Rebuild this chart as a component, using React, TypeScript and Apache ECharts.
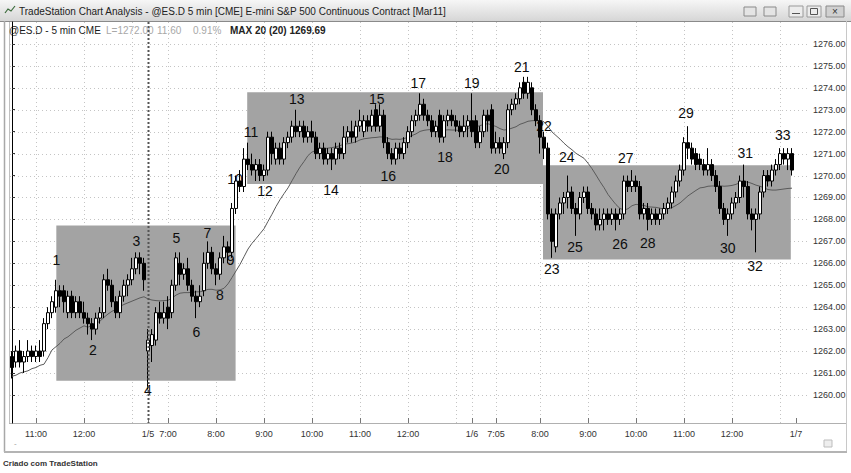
import React, { useEffect, useRef } from 'react';
import * as echarts from 'echarts';

// Sessions shown (5-minute bars, exchange-local time stamps)
const sessionDates = ['1/4', '1/5', '1/6'];
const sessionStarts = ['10:30', '6:35', '6:35'];
const trailingSlots = ['1/7 a', '1/7 b', '1/7 c', '1/7 d'];

// Bars: [open, close, low, high]
const day1Bars = [
  [1261.75, 1261.25, 1260.75, 1262.0], [1261.5, 1262.0, 1261.25, 1262.25], [1262.0, 1261.5, 1261.25, 1262.5],
  [1261.5, 1261.75, 1261.0, 1262.0], [1261.75, 1262.0, 1261.5, 1262.5], [1262.0, 1261.75, 1261.5, 1262.25],
  [1261.75, 1262.0, 1261.5, 1262.25], [1262.0, 1261.75, 1261.5, 1262.5], [1262.0, 1263.25, 1261.75, 1263.5],
  [1263.25, 1263.75, 1263.0, 1264.0], [1263.75, 1264.25, 1263.5, 1264.5], [1264.0, 1264.75, 1263.75, 1265.25],
  [1264.75, 1264.5, 1264.0, 1265.0], [1264.75, 1264.25, 1263.75, 1265.0], [1263.75, 1264.5, 1263.5, 1264.75],
  [1264.5, 1263.75, 1263.5, 1264.75], [1263.75, 1264.25, 1263.5, 1264.5], [1264.25, 1263.75, 1263.5, 1264.5],
  [1263.75, 1263.5, 1263.25, 1264.25], [1263.5, 1263.25, 1262.75, 1263.75], [1263.25, 1263.0, 1262.5, 1263.5],
  [1263.0, 1263.5, 1262.75, 1263.75], [1263.5, 1263.75, 1263.25, 1264.0], [1263.75, 1265.25, 1263.5, 1265.5],
  [1265.25, 1265.0, 1264.75, 1265.75], [1265.0, 1264.25, 1264.0, 1265.25], [1264.25, 1263.75, 1263.5, 1264.5],
  [1263.75, 1264.5, 1263.5, 1264.75], [1264.5, 1265.0, 1264.25, 1265.25], [1265.0, 1265.25, 1264.5, 1265.5],
  [1265.25, 1265.75, 1265.0, 1266.25], [1265.75, 1266.25, 1265.5, 1266.5], [1266.25, 1266.0, 1265.5, 1266.5],
  [1266.0, 1265.25, 1264.75, 1266.25],
];
const day2Bars = [
  [1262.0, 1262.5, 1260.25, 1263.0], [1262.25, 1262.75, 1261.5, 1263.0], [1262.5, 1263.75, 1262.25, 1264.0],
  [1263.75, 1263.5, 1263.25, 1264.25], [1263.5, 1263.75, 1263.25, 1264.25], [1264.0, 1263.5, 1263.0, 1264.5],
  [1263.75, 1265.0, 1263.5, 1265.25], [1265.0, 1266.25, 1264.75, 1266.5], [1266.0, 1265.5, 1265.0, 1266.5],
  [1265.5, 1265.75, 1265.25, 1266.0], [1265.75, 1265.0, 1264.75, 1266.25], [1265.0, 1264.5, 1264.25, 1265.25],
  [1264.5, 1264.25, 1263.5, 1264.75], [1264.25, 1264.5, 1264.0, 1265.0], [1264.75, 1266.0, 1264.5, 1266.5],
  [1266.0, 1266.5, 1265.75, 1267.0], [1266.5, 1265.75, 1265.5, 1266.75], [1265.75, 1265.5, 1265.0, 1266.0],
  [1265.5, 1266.25, 1265.25, 1266.5], [1266.25, 1266.75, 1266.0, 1267.25], [1266.75, 1266.5, 1266.0, 1267.0],
  [1266.5, 1268.5, 1266.25, 1268.75], [1268.5, 1269.75, 1268.25, 1270.0], [1269.75, 1269.5, 1269.25, 1270.25],
  [1269.5, 1270.75, 1269.25, 1271.25], [1270.75, 1270.5, 1270.25, 1271.5], [1270.5, 1270.25, 1270.0, 1271.0],
  [1270.25, 1270.5, 1269.75, 1270.75], [1270.5, 1270.0, 1269.75, 1270.75], [1270.0, 1270.25, 1269.75, 1270.5],
  [1270.25, 1271.75, 1270.0, 1272.0], [1271.75, 1271.0, 1270.5, 1272.0], [1270.75, 1271.25, 1270.5, 1271.5],
  [1271.25, 1270.75, 1270.5, 1271.5], [1270.75, 1271.5, 1270.5, 1271.75], [1271.5, 1271.75, 1271.25, 1272.0],
  [1271.75, 1272.25, 1271.5, 1272.5], [1272.25, 1272.0, 1271.75, 1273.0], [1272.0, 1272.25, 1271.75, 1272.5],
  [1272.25, 1271.75, 1271.5, 1272.5], [1271.75, 1272.0, 1271.5, 1272.25], [1272.0, 1271.75, 1271.5, 1272.5],
  [1271.75, 1271.0, 1270.75, 1272.0], [1271.0, 1271.25, 1270.75, 1271.5], [1271.25, 1270.75, 1270.5, 1271.5],
  [1270.75, 1271.0, 1270.5, 1271.25], [1271.0, 1270.75, 1270.25, 1271.25], [1270.75, 1271.25, 1270.5, 1271.5],
  [1271.25, 1271.0, 1270.75, 1271.5], [1271.0, 1271.75, 1270.75, 1272.25], [1271.75, 1272.0, 1271.5, 1272.25],
  [1272.0, 1271.75, 1271.5, 1272.5], [1271.75, 1272.25, 1271.5, 1272.5], [1272.25, 1272.5, 1272.0, 1273.0],
  [1272.0, 1272.5, 1271.75, 1272.75], [1272.5, 1272.25, 1272.0, 1272.75], [1272.25, 1272.75, 1272.0, 1273.0],
  [1273.0, 1272.25, 1272.0, 1273.25], [1272.25, 1272.75, 1272.0, 1273.25], [1272.75, 1271.5, 1271.25, 1273.0],
  [1271.5, 1271.0, 1270.75, 1271.75], [1271.0, 1270.75, 1270.5, 1271.25], [1270.75, 1271.25, 1270.5, 1271.5],
  [1271.25, 1271.0, 1270.75, 1271.5], [1271.0, 1271.5, 1270.75, 1271.75], [1271.5, 1272.0, 1271.25, 1272.25],
  [1272.0, 1272.5, 1271.75, 1272.75], [1272.5, 1272.75, 1272.25, 1273.0], [1272.75, 1273.25, 1272.5, 1273.75],
  [1273.25, 1272.75, 1272.5, 1273.5], [1272.75, 1272.5, 1272.25, 1273.0], [1272.5, 1272.0, 1271.75, 1272.75],
  [1272.0, 1272.25, 1271.75, 1272.5], [1272.75, 1271.75, 1271.5, 1273.0], [1271.75, 1272.5, 1271.5, 1272.75],
  [1272.5, 1272.75, 1272.25, 1273.0], [1272.75, 1272.5, 1272.25, 1273.0], [1272.5, 1272.25, 1272.0, 1272.75],
  [1272.25, 1272.0, 1271.75, 1272.5], [1272.0, 1272.25, 1271.75, 1272.75], [1272.25, 1272.5, 1271.75, 1272.75],
];
const day3Bars = [
  [1272.5, 1272.0, 1271.75, 1273.75], [1272.5, 1271.5, 1271.25, 1272.75], [1271.5, 1272.0, 1271.25, 1272.25],
  [1272.0, 1272.75, 1271.75, 1273.0], [1272.75, 1272.5, 1272.0, 1273.0], [1273.0, 1271.25, 1271.0, 1273.25],
  [1271.25, 1271.5, 1271.0, 1272.0], [1271.5, 1271.25, 1271.0, 1271.75], [1271.0, 1271.5, 1270.75, 1271.75],
  [1271.5, 1273.0, 1271.25, 1273.25], [1273.0, 1273.25, 1272.75, 1273.5], [1273.25, 1273.5, 1273.0, 1273.75],
  [1273.5, 1274.0, 1273.25, 1274.25], [1274.25, 1273.75, 1273.5, 1274.5], [1273.75, 1274.25, 1273.5, 1274.5],
  [1274.0, 1273.0, 1272.75, 1274.25], [1273.0, 1272.5, 1272.25, 1273.25], [1272.5, 1271.75, 1271.0, 1272.75],
  [1271.75, 1271.25, 1270.75, 1272.0], [1271.25, 1268.25, 1268.0, 1271.5], [1268.25, 1267.0, 1266.25, 1268.5],
  [1266.75, 1268.25, 1266.5, 1268.5], [1268.25, 1268.75, 1268.0, 1269.0], [1268.75, 1269.0, 1268.25, 1269.25],
  [1269.0, 1269.25, 1268.5, 1270.0], [1269.25, 1268.5, 1268.25, 1269.5], [1268.5, 1268.25, 1267.25, 1268.75],
  [1268.25, 1269.0, 1268.0, 1269.25], [1269.0, 1269.25, 1268.75, 1269.5], [1269.25, 1268.5, 1268.25, 1269.5],
  [1268.5, 1268.25, 1268.0, 1268.75], [1268.25, 1267.75, 1267.5, 1268.5], [1267.75, 1268.0, 1267.5, 1268.5],
  [1268.0, 1268.25, 1267.5, 1268.5], [1268.25, 1268.0, 1267.75, 1268.5], [1268.0, 1268.25, 1267.75, 1268.5],
  [1268.25, 1268.0, 1267.5, 1268.5], [1268.0, 1268.25, 1267.75, 1268.5], [1268.25, 1269.75, 1268.0, 1270.0],
  [1269.75, 1269.5, 1269.25, 1270.0], [1269.5, 1269.75, 1269.25, 1270.25], [1269.75, 1269.5, 1269.25, 1270.0],
  [1269.5, 1268.25, 1268.0, 1269.75], [1268.25, 1268.5, 1268.0, 1268.75], [1268.5, 1268.0, 1267.5, 1268.75],
  [1268.0, 1268.25, 1267.75, 1268.5], [1268.25, 1268.0, 1267.75, 1268.5], [1268.0, 1268.25, 1267.75, 1268.5],
  [1268.25, 1268.5, 1268.0, 1268.75], [1268.5, 1268.75, 1268.25, 1269.0], [1268.75, 1269.25, 1268.5, 1269.5],
  [1269.25, 1269.75, 1269.0, 1270.0], [1269.75, 1270.25, 1269.5, 1270.5], [1270.25, 1271.5, 1270.0, 1271.75],
  [1271.5, 1271.25, 1270.75, 1272.25], [1271.25, 1270.75, 1270.5, 1271.5], [1271.0, 1270.5, 1270.25, 1271.25],
  [1270.75, 1270.5, 1270.25, 1271.0], [1270.5, 1270.25, 1270.0, 1270.75], [1270.25, 1270.5, 1270.0, 1271.25],
  [1270.5, 1270.0, 1269.75, 1270.75], [1270.0, 1269.5, 1269.25, 1270.25], [1269.5, 1268.5, 1268.25, 1269.75],
  [1268.5, 1268.0, 1267.75, 1268.75], [1268.0, 1268.25, 1267.25, 1268.5], [1268.25, 1268.75, 1268.0, 1269.0],
  [1268.75, 1269.0, 1268.5, 1269.25], [1269.0, 1269.75, 1268.75, 1270.0], [1269.75, 1269.5, 1269.0, 1270.5],
  [1269.5, 1268.25, 1268.0, 1269.75], [1268.25, 1268.0, 1267.5, 1268.5], [1268.0, 1268.25, 1266.5, 1268.5],
  [1268.25, 1269.25, 1268.0, 1269.5], [1269.25, 1270.0, 1269.0, 1270.25], [1270.0, 1269.75, 1269.5, 1270.25],
  [1269.75, 1270.25, 1269.5, 1270.5], [1270.25, 1270.5, 1270.0, 1270.75], [1270.5, 1271.0, 1270.25, 1271.25],
  [1271.0, 1270.75, 1270.5, 1271.25], [1270.75, 1271.0, 1270.25, 1271.25], [1271.0, 1270.25, 1270.0, 1271.25],
];

// MAX 20 values for the first bars (before 20 closes exist in view)
const maLead = [
  1260.85, 1260.9, 1261.0, 1261.05, 1261.1, 1261.2, 1261.25, 1261.35, 1261.4, 1261.7,
  1262.05, 1262.2, 1262.35, 1262.55, 1262.65, 1262.8, 1262.95, 1263.05, 1263.15,
];
const maPeriod = 20;

const priceTicks = [1260, 1261, 1262, 1263, 1264, 1265, 1266, 1267, 1268, 1269, 1270, 1271, 1272, 1273, 1274, 1275, 1276];
const xTickLabels: [number, string][] = [
  [6, '11:00'], [18, '12:00'], [34, '1/5'], [39, '7:00'], [51, '8:00'], [63, '9:00'], [75, '10:00'],
  [87, '11:00'], [99, '12:00'], [115, '1/6'], [121, '7:05'], [132, '8:00'], [144, '9:00'], [156, '10:00'],
  [168, '11:00'], [180, '12:00'], [196, '1/7'],
];
const hourGridIdx = [6, 18, 30, 39, 51, 63, 75, 87, 99, 111, 115, 121, 132, 144, 156, 168, 180, 192];
const sessionBreakIdx = [34];

// Rectangles: [fromBar, toBar, low, high]
const boxes = [
  [11.08, 55.9, 1260.65, 1267.72],
  [58.8, 132.75, 1269.62, 1273.8],
  [132.75, 194.7, 1266.17, 1270.47],
];

// Wave labels: [text, bar, price]
const waveLabels: [string, number, number][] = [
  ['1', 11.08, 1266.15], ['2', 20.25, 1262.05], ['3', 31.08, 1267.02], ['4', 34.0, 1260.23],
  ['5', 41.08, 1267.16], ['6', 46.08, 1262.89], ['7', 48.83, 1267.4], ['8', 52.0, 1264.56],
  ['9', 54.68, 1266.15], ['10', 55.75, 1269.85], ['11', 59.75, 1272.0], ['12', 63.25, 1269.31],
  ['13', 71.18, 1273.48], ['14', 79.75, 1269.34], ['15', 91.18, 1273.48], ['16', 94.08, 1269.98],
  ['17', 101.58, 1274.24], ['18', 108.25, 1270.84], ['19', 114.93, 1274.21], ['20', 122.43, 1270.29],
  ['21', 127.43, 1274.94], ['22', 133.0, 1272.26], ['23', 134.93, 1265.73], ['24', 138.68, 1270.84],
  ['25', 140.75, 1266.76], ['26', 152.0, 1266.88], ['27', 153.43, 1270.79], ['28', 158.93, 1266.94],
  ['29', 168.5, 1272.84], ['30', 178.93, 1266.69], ['31', 183.33, 1271.02], ['32', 185.75, 1265.88],
  ['33', 192.68, 1271.85],
];

const FONT = '"Liberation Sans", Arial, sans-serif';

function buildCategories(dayBars: number[][][]): string[] {
  const cats: string[] = [];
  dayBars.forEach((bars, d) => {
    const [h0, m0] = sessionStarts[d].split(':').map(Number);
    for (let k = 0; k < bars.length; k++) {
      const t = h0 * 60 + m0 + 5 * k;
      const hh = Math.floor(t / 60);
      const mm = t % 60;
      cats.push(`${sessionDates[d]} ${hh}:${mm < 10 ? '0' : ''}${mm}`);
    }
  });
  return cats.concat(trailingSlots);
}

export default function App() {
  const ref = useRef<HTMLDivElement>(null);

  useEffect(() => {
    document.body.style.margin = '0';
    const chart = echarts.init(ref.current as HTMLDivElement, null, { renderer: 'svg' });

    const bars = [...day1Bars, ...day2Bars, ...day3Bars];
    const categories = buildCategories([day1Bars, day2Bars, day3Bars]);
    const nSlots = categories.length;
    const closes = bars.map((b) => b[1]);
    const ma = closes.map((_, i) => {
      if (i < maPeriod - 1) return maLead[i];
      let s = 0;
      for (let j = i - maPeriod + 1; j <= i; j++) s += closes[j];
      return +(s / maPeriod).toFixed(3);
    });
    const labelMap = new Map<number, string>(xTickLabels);
    const showIdx = (i: number) => labelMap.has(i);

    const vLineItem = (color: string, width: number, dash: number[]) => (params: any, api: any) => {
      const cs = params.coordSys;
      const x = Math.round(api.coord([api.value(0), 1268])[0]) + 0.5;
      return {
        type: 'line',
        shape: { x1: x, y1: cs.y, x2: x, y2: cs.y + cs.height },
        style: { stroke: color, lineWidth: width, lineDash: dash },
      };
    };

    const option: any = {
      animation: false,
      backgroundColor: '#ffffff',
      grid: { left: 10, right: 41, top: 22, bottom: 50 },
      xAxis: [
        {
          type: 'category',
          data: categories,
          boundaryGap: true,
          axisLine: { show: false },
          axisTick: {
            show: true,
            inside: true,
            length: 5,
            alignWithLabel: true,
            interval: (i: number) => showIdx(i),
            lineStyle: { color: '#777' },
          },
          axisLabel: {
            interval: (i: number) => showIdx(i),
            formatter: (_v: string, i: number) => labelMap.get(i) || '',
            fontSize: 9,
            fontFamily: FONT,
            color: '#333',
            margin: 6,
          },
          splitLine: { show: false },
        },
        { type: 'value', min: -0.5, max: nSlots - 0.5, show: false },
      ],
      yAxis: {
        type: 'value',
        position: 'right',
        min: 1258.72,
        max: 1277.0,
        axisLine: { show: true, lineStyle: { color: '#000', width: 1 } },
        axisTick: { show: true, customValues: priceTicks, length: 3, lineStyle: { color: '#333' } },
        axisLabel: {
          customValues: priceTicks,
          formatter: (v: number) => v.toFixed(2),
          fontSize: 9,
          fontFamily: FONT,
          color: '#333',
          margin: 3,
        },
        splitLine: { show: false },
      },
      series: [
        {
          type: 'custom',
          name: 'priceGrid',
          xAxisIndex: 1,
          z: 0,
          silent: true,
          data: priceTicks.map((p) => [0, p]),
          renderItem: (params: any, api: any) => {
            const cs = params.coordSys;
            const y = Math.round(api.coord([0, api.value(1)])[1]) + 0.5;
            return {
              type: 'line',
              shape: { x1: cs.x, y1: y, x2: cs.x + cs.width, y2: y },
              style: { stroke: '#c4c4c4', lineWidth: 1, lineDash: [1, 3] },
            };
          },
        },
        {
          type: 'custom',
          name: 'timeGrid',
          xAxisIndex: 1,
          z: 0,
          silent: true,
          data: hourGridIdx.map((i) => [i, 1268]),
          renderItem: vLineItem('#c4c4c4', 1, [1, 3]),
        },
        {
          type: 'custom',
          name: 'boxes',
          xAxisIndex: 1,
          z: 1,
          silent: true,
          data: boxes,
          renderItem: (params: any, api: any) => {
            const p0 = api.coord([api.value(0), api.value(3)]);
            const p1 = api.coord([api.value(1), api.value(2)]);
            return {
              type: 'rect',
              shape: { x: p0[0], y: p0[1], width: p1[0] - p0[0], height: p1[1] - p0[1] },
              style: { fill: '#a3a3a3' },
            };
          },
        },
        {
          type: 'custom',
          name: 'waveLabels',
          xAxisIndex: 1,
          z: 2,
          silent: true,
          data: waveLabels.map((w) => [w[1], w[2]]),
          renderItem: (params: any, api: any) => {
            const p = api.coord([api.value(0), api.value(1)]);
            return {
              type: 'text',
              x: p[0],
              y: p[1],
              style: {
                text: waveLabels[params.dataIndex][0],
                fill: '#0d0d0d',
                fontSize: 14,
                fontFamily: FONT,
                align: 'center',
                verticalAlign: 'middle',
              },
            };
          },
        },
        {
          type: 'line',
          name: 'MAX 20',
          data: ma,
          xAxisIndex: 0,
          z: 3,
          symbol: 'none',
          showSymbol: false,
          lineStyle: { color: '#5a5a5a', width: 1 },
          silent: true,
        },
        {
          type: 'candlestick',
          name: '@ES.D',
          data: bars,
          xAxisIndex: 0,
          z: 4,
          barWidth: 3,
          itemStyle: {
            color: '#ffffff',
            color0: '#000000',
            borderColor: '#000000',
            borderColor0: '#000000',
            borderWidth: 1,
          },
          silent: true,
        },
        {
          type: 'custom',
          name: 'sessionBreak',
          xAxisIndex: 1,
          z: 5,
          silent: true,
          data: sessionBreakIdx.map((i) => [i, 1268]),
          renderItem: vLineItem('#555555', 2, [2, 2]),
        },
      ],
      graphic: {
        elements: [
          {
            type: 'rect',
            shape: { x: 0, y: 0, width: 851, height: 21 },
            style: {
              fill: new echarts.graphic.LinearGradient(0, 0, 0, 1, [
                { offset: 0, color: '#f6f6f6' },
                { offset: 1, color: '#d6d6d6' },
              ]),
            },
            silent: true,
          },
          { type: 'line', shape: { x1: 0, y1: 21.5, x2: 851, y2: 21.5 }, style: { stroke: '#8a8a8a', lineWidth: 1 } },
          {
            type: 'polyline',
            shape: { points: [[5, 13], [8, 9], [11, 11], [15, 6]] },
            style: { stroke: '#3a6a3a', lineWidth: 1.2, fill: 'none' },
          },
          {
            type: 'text',
            x: 19,
            y: 11,
            style: {
              text: 'TradeStation Chart Analysis - @ES.D 5 min [CME] E-mini S&P 500 Continuous Contract [Mar11]',
              fontSize: 10,
              fontFamily: FONT,
              fill: '#222',
              verticalAlign: 'middle',
            },
          },
          // window buttons
          { type: 'rect', shape: { x: 744, y: 7, width: 12, height: 9 }, style: { fill: '#e4e4e4', stroke: '#8a8a8a', lineWidth: 1 } },
          { type: 'rect', shape: { x: 764, y: 7, width: 12, height: 9 }, style: { fill: '#e4e4e4', stroke: '#8a8a8a', lineWidth: 1 } },
          { type: 'rect', shape: { x: 789, y: 6, width: 14, height: 11 }, style: { fill: '#ececec', stroke: '#9a9a9a', lineWidth: 1 } },
          { type: 'line', shape: { x1: 792, y1: 13.5, x2: 800, y2: 13.5 }, style: { stroke: '#555', lineWidth: 1 } },
          { type: 'rect', shape: { x: 807, y: 6, width: 14, height: 11 }, style: { fill: '#ececec', stroke: '#9a9a9a', lineWidth: 1 } },
          { type: 'rect', shape: { x: 810.5, y: 8.5, width: 7, height: 6 }, style: { fill: 'none', stroke: '#555', lineWidth: 1 } },
          { type: 'rect', shape: { x: 826, y: 6, width: 18, height: 11 }, style: { fill: '#d0d0d0', stroke: '#8a8a8a', lineWidth: 1 } },
          { type: 'text', x: 835, y: 11.5, style: { text: '×', fontSize: 10, fontFamily: FONT, fill: '#333', align: 'center', verticalAlign: 'middle' } },
          // window frame
          { type: 'line', shape: { x1: 4.5, y1: 21, x2: 4.5, y2: 452 }, style: { stroke: '#a8a8a8', lineWidth: 1.5 } },
          { type: 'line', shape: { x1: 9.5, y1: 22, x2: 9.5, y2: 423 }, style: { stroke: '#c0c0c0', lineWidth: 1 } },
          { type: 'line', shape: { x1: 846.5, y1: 21, x2: 846.5, y2: 452 }, style: { stroke: '#c8c8c8', lineWidth: 1 } },
          { type: 'line', shape: { x1: 9, y1: 423.5, x2: 846, y2: 423.5 }, style: { stroke: '#b0b0b0', lineWidth: 1 } },
          { type: 'line', shape: { x1: 4, y1: 452, x2: 847, y2: 452 }, style: { stroke: '#b4b4b4', lineWidth: 2 } },
          { type: 'rect', shape: { x: 824, y: 440, width: 8, height: 7 }, style: { fill: '#eeeeee', stroke: '#bdbdbd', lineWidth: 1 } },
          { type: 'text', x: 14, y: 443, style: { text: '-', fontSize: 8, fontFamily: FONT, fill: '#999', verticalAlign: 'middle' } },
          // symbol line
          { type: 'text', x: 9, y: 30, style: { text: '@ES.D - 5 min CME', fontSize: 10, fontFamily: FONT, fill: '#1a1a1a', verticalAlign: 'middle' } },
          { type: 'text', x: 106, y: 30, style: { text: 'L=1272.00', fontSize: 10, fontFamily: FONT, fill: '#a8a8a8', verticalAlign: 'middle' } },
          { type: 'text', x: 157, y: 30, style: { text: '11.60', fontSize: 10, fontFamily: FONT, fill: '#a8a8a8', verticalAlign: 'middle' } },
          { type: 'text', x: 193, y: 30, style: { text: '0.91%', fontSize: 10, fontFamily: FONT, fill: '#a8a8a8', verticalAlign: 'middle' } },
          { type: 'text', x: 230, y: 30, style: { text: 'MAX 20 (20) 1269.69', fontSize: 10, fontWeight: 'bold', fontFamily: FONT, fill: '#222', verticalAlign: 'middle' } },
          // footer
          { type: 'text', x: 3, y: 463, style: { text: 'Criado com TradeStation', fontSize: 8, fontWeight: 'bold', fontFamily: FONT, fill: '#333', verticalAlign: 'middle' } },
        ],
      },
    };

    chart.setOption(option);
    return () => chart.dispose();
  }, []);

  return (
    <div
      ref={ref}
      style={{ position: 'absolute', left: 0, top: 0, width: 851, height: 473, background: '#fff' }}
    />
  );
}
